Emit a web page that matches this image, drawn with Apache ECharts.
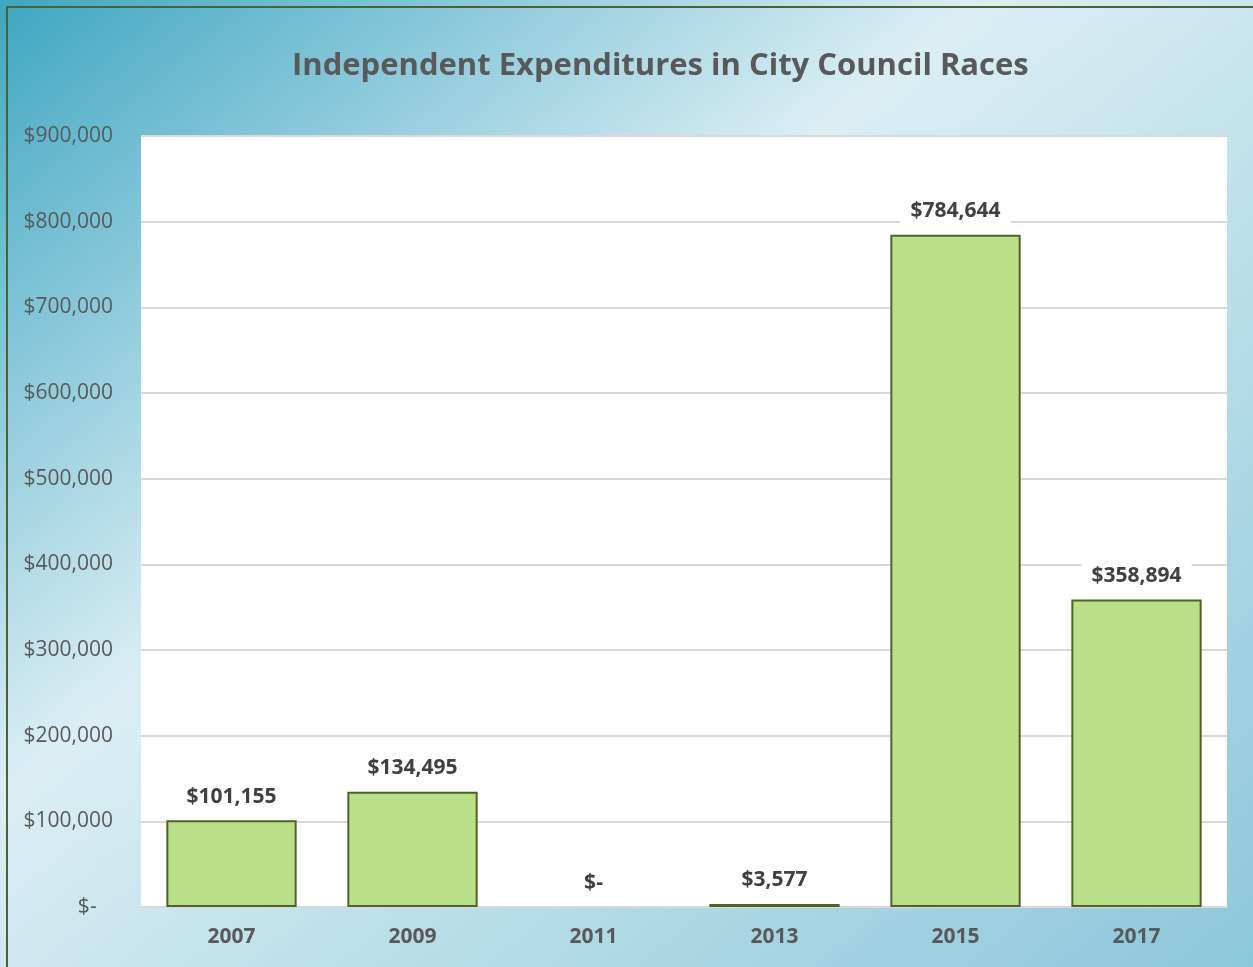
<!DOCTYPE html>
<html>
<head>
<meta charset="utf-8">
<script src="https://cdn.jsdelivr.net/npm/echarts@6/dist/echarts.min.js"></script>
<style>
html,body{margin:0;padding:0;background:#fff;}
#chart{width:1253px;height:967px;}
</style>
</head>
<body>
<div id="chart"></div>
<script>
const titleText = 'Independent Expenditures in City Council Races';
const categories = ['2007', '2009', '2011', '2013', '2015', '2017'];
const expenditures = [101155, 134495, 0, 3577, 784644, 358894];
const yTicks = { min: 0, max: 900000, interval: 100000 };

function money(v) {
  if (v === 0) return '$-';
  return '$' + Math.round(v).toString().replace(/\B(?=(\d{3})+(?!\d))/g, ',');
}

const chart = echarts.init(document.getElementById('chart'), null, { renderer: 'canvas' });
const font = '"Open Sans", "DejaVu Sans", sans-serif';

chart.setOption({
  animation: false,
  backgroundColor: new echarts.graphic.LinearGradient(0, 0, 970, 1196, [
    { offset: 0, color: '#3fa6c2' },
    { offset: 0.4, color: '#dbeef4' },
    { offset: 0.55, color: '#c6e4ed' },
    { offset: 1, color: '#8cc7da' }
  ], true),
  textStyle: { fontFamily: font },
  title: {
    text: titleText,
    left: 287,
    top: 46,
    textStyle: { fontSize: 31, fontWeight: 'bold', color: '#595959', fontFamily: font }
  },
  graphic: [{
    type: 'rect',
    silent: true,
    shape: { x: 7, y: 7, width: 1260, height: 980 },
    style: { fill: 'none', stroke: '#4f6228', lineWidth: 2 }
  }],
  grid: {
    left: 141, right: 26, top: 136, bottom: 60,
    show: true, backgroundColor: '#ffffff', borderWidth: 0
  },
  xAxis: {
    type: 'category',
    data: categories,
    axisTick: { show: false },
    axisLine: { lineStyle: { color: '#d9d9d9', width: 2 } },
    axisLabel: { margin: 20, fontSize: 21, fontWeight: 'bold', color: '#595959', fontFamily: font }
  },
  yAxis: {
    type: 'value',
    min: yTicks.min, max: yTicks.max, interval: yTicks.interval,
    axisLine: { show: false },
    axisTick: { show: false },
    splitLine: { lineStyle: { color: '#d9d9d9', width: 2 } },
    axisLabel: {
      margin: 28, fontSize: 21, color: '#595959', fontFamily: font,
      formatter: v => v === 0 ? '$-   ' : money(v)
    }
  },
  series: [{
    type: 'bar',
    data: expenditures.map(v => v === 0 ? { value: v, itemStyle: { borderWidth: 0 } } : v),
    barCategoryGap: '28%',
    itemStyle: { color: '#b9df89', borderColor: '#4f6228', borderWidth: 2 },
    label: {
      show: true,
      position: 'top',
      distance: 11,
      formatter: p => money(p.value),
      fontSize: 21, fontWeight: 'bold', color: '#404040', fontFamily: font,
      backgroundColor: '#ffffff',
      padding: [2, 10, 2, 10]
    }
  }]
});
</script>
</body>
</html>
